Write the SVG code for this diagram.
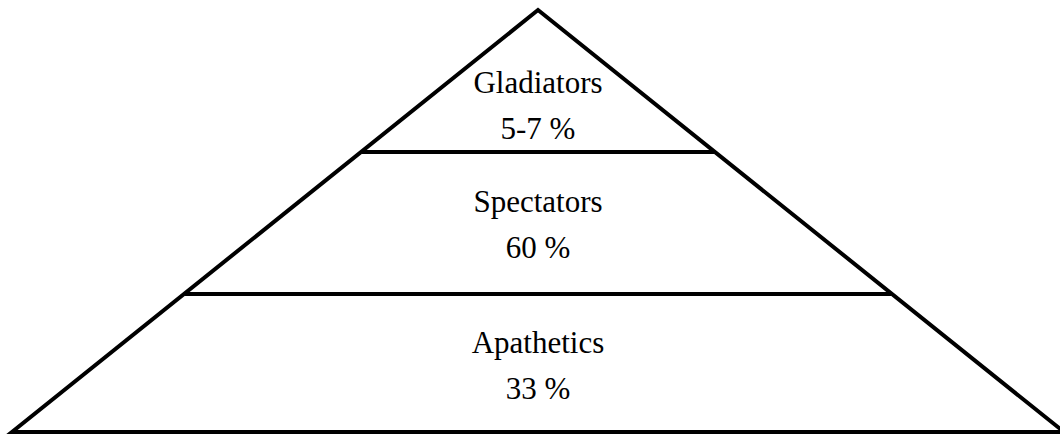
<svg xmlns="http://www.w3.org/2000/svg" width="1060" height="434" viewBox="0 0 1060 434">
<style>
.ln{stroke:#000;stroke-width:4;fill:none}
.t{font-family:"Liberation Serif","Times New Roman",serif;font-size:31px;fill:#000;text-anchor:middle}
</style>
<rect width="1060" height="434" fill="#fff"/>
<g id="connectors">
<polygon class="ln" points="538,10 12,432 1064,432"/>
</g>
<g id="tier-gladiators">
<text class="t" x="538" y="93">Gladiators</text>
<text class="t" x="538" y="139">5-7 %</text>
</g>
<g id="tier-spectators">
<line class="ln" x1="362" y1="152" x2="714" y2="152"/>
<text class="t" x="538" y="212">Spectators</text>
<text class="t" x="538" y="258">60 %</text>
</g>
<g id="tier-apathetics">
<line class="ln" x1="185" y1="294" x2="891" y2="294"/>
<text class="t" x="538" y="353">Apathetics</text>
<text class="t" x="538" y="399">33 %</text>
</g>
</svg>
